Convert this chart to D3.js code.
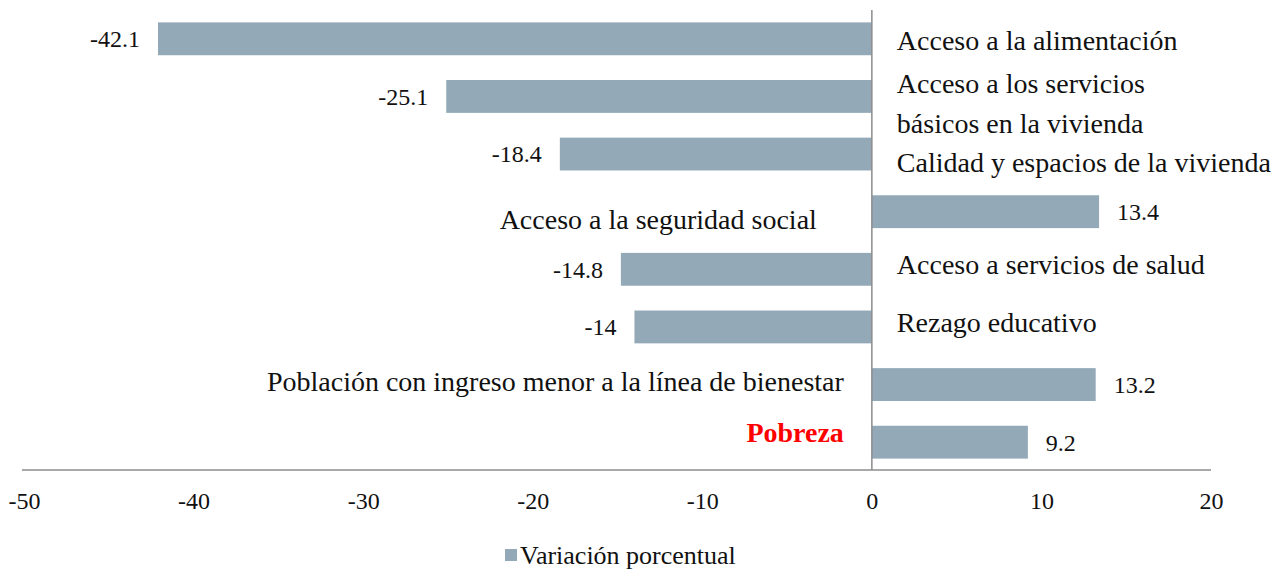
<!DOCTYPE html>
<html>
<head>
<meta charset="utf-8">
<script src="https://cdn.jsdelivr.net/npm/d3@7"></script>
<style>
  body { margin: 0; background: #fff; }
  svg text { font-family: "Liberation Serif", "DejaVu Serif", serif; fill: #111; }
</style>
</head>
<body>
<div id="chart"></div>
<script>
// data
var categories = [
    "Acceso a la alimentación",
    "Acceso a los servicios|básicos en la vivienda",
    "Calidad y espacios de la vivienda",
    "Acceso a la seguridad social",
    "Acceso a servicios de salud",
    "Rezago educativo",
    "Población con ingreso menor a la línea de bienestar",
    "Pobreza"
];
var values = [-42.1, -25.1, -18.4, 13.4, -14.8, -14, 13.2, 9.2];
var xTicks = [-50, -40, -30, -20, -10, 0, 10, 20];
var seriesName = "Variación porcentual";

// 1) canvas
var svg_width = 1282;
var svg_height = 570;
var barColor = "#93a9b8";
var axisColor = "#8c8c8c";

var svg = d3.select("#chart")
    .append("svg")
    .attr("width", svg_width)
    .attr("height", svg_height);

// 2) scales
var xScale = d3.scaleLinear()
    .domain([-50, 20])
    .range([24, 1211]);

var yScale = d3.scaleBand()
    .domain(categories)
    .range([10, 471])
    .paddingInner(0.43)
    .paddingOuter(0.215);

var axisY = 470;

// 3) bars
svg.append("g").selectAll("rect")
    .data(values)
    .enter()
    .append("rect")
    .attr("x", d => xScale(Math.min(0, d)))
    .attr("y", (d, i) => yScale(categories[i]))
    .attr("width", d => Math.abs(xScale(d) - xScale(0)))
    .attr("height", yScale.bandwidth())
    .attr("fill", barColor);

// 4) axis lines
svg.append("line")
    .attr("x1", xScale(0)).attr("x2", xScale(0))
    .attr("y1", 10).attr("y2", axisY)
    .attr("stroke", axisColor)
    .attr("stroke-width", 1.5);

svg.append("line")
    .attr("x1", 22).attr("x2", xScale(20))
    .attr("y1", axisY).attr("y2", axisY)
    .attr("stroke", axisColor)
    .attr("stroke-width", 1.5);

// tick labels
var bottom_axis = d3.axisBottom(xScale)
    .tickValues(xTicks)
    .tickFormat(d => String(d))
    .tickSize(0)
    .tickPadding(0);

var axisG = svg.append("g")
    .attr("transform", `translate(0, ${axisY})`)
    .call(bottom_axis);
axisG.select(".domain").remove();
axisG.selectAll("text")
    .attr("y", 31)
    .attr("dy", "0.35em")
    .attr("font-size", 24)
    .style("font-family", "Liberation Serif")
    .attr("fill", "#111");

// 5) value labels
svg.append("g").selectAll("text")
    .data(values)
    .enter()
    .append("text")
    .attr("x", d => d < 0 ? xScale(d) - 18 : xScale(d) + 18)
    .attr("y", (d, i) => yScale(categories[i]) + yScale.bandwidth() / 2)
    .attr("dy", "0.35em")
    .attr("text-anchor", d => d < 0 ? "end" : "start")
    .attr("font-size", 24)
    .text(d => d);

// 6) category labels, on the opposite side of the bar (baseline offsets from bar centre)
var labelBase = [11, -3, 18, 17, 5, 5, 6, 0];
var labelShift = [0, 0, 0, -27, 0, 0, 0, 0];

var catG = svg.append("g");
categories.forEach(function(c, i) {
    var lines = c.split("|");
    var cy = yScale(c) + yScale.bandwidth() / 2 + labelBase[i];
    var neg = values[i] < 0;
    var lx = neg ? xScale(0) + 25 : xScale(0) - 28 + labelShift[i];
    var t = catG.append("text")
        .attr("y", cy)
        .attr("text-anchor", neg ? "start" : "end")
        .attr("font-size", 28);
    lines.forEach(function(l, j) {
        t.append("tspan")
            .attr("x", lx)
            .attr("dy", j === 0 ? 0 : 40)
            .text(l);
    });
    if (c === "Pobreza") {
        t.attr("font-weight", "bold").style("fill", "#ff0000");
    }
});

// 7) legend
var legend = svg.append("g").attr("transform", "translate(505, 549)");
legend.append("rect")
    .attr("width", 12).attr("height", 12)
    .attr("fill", barColor);
legend.append("text")
    .attr("x", 15).attr("y", 6)
    .attr("dy", "0.35em")
    .attr("font-size", 26)
    .text(seriesName);
</script>
</body>
</html>
